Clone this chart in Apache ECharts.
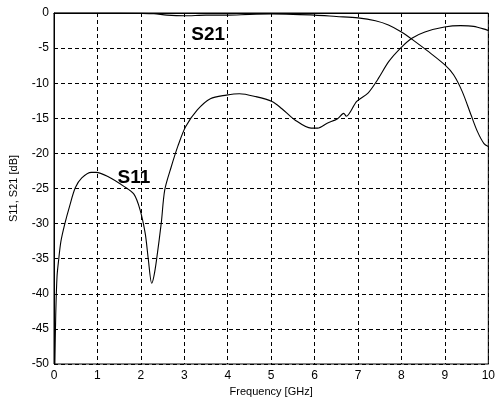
<!DOCTYPE html>
<html>
<head>
<meta charset="utf-8">
<script src="https://cdn.jsdelivr.net/npm/echarts@6/dist/echarts.min.js"></script>
<style>
  html, body { margin: 0; padding: 0; background: #fff; }
  #chart-container { width: 498px; height: 403px; }
</style>
</head>
<body>
<div id="chart-container"></div>
<script>
// S11 / S21 versus frequency

var myChart = echarts.init(document.getElementById('chart-container'));

// axis ranges
var X_MIN = 0, X_MAX = 10, X_STEP = 1;
var Y_MIN = -50, Y_MAX = 0, Y_STEP = 5;

// S11 curve [GHz, dB]
var s11Freq = [0.02, 0.04, 0.07, 0.11, 0.16, 0.25, 0.36, 0.49, 0.64, 0.86, 0.97, 1.24, 1.61, 1.84,
    1.98, 2.10, 2.17, 2.25, 2.30, 2.36, 2.47, 2.55, 2.70, 2.85, 3.03, 3.30, 3.60, 3.97, 4.27,
    4.64, 5.02, 5.24, 5.54, 5.92, 6.07, 6.29, 6.52, 6.67, 6.73, 6.97, 7.23, 7.45, 7.71, 7.98,
    8.24, 8.54, 8.99, 9.36, 9.66, 9.96, 10.0];
var s11Db = [-50, -43, -37.5, -35, -32.5, -30, -27.5, -24.9, -23.5, -22.7, -22.7, -23.3, -24.7, -25.8,
    -28, -31.4, -35, -38.5, -37.5, -35.2, -29.9, -25.2, -21.9, -19, -16.2, -13.8, -12.2, -11.7, -11.5,
    -11.9, -12.6, -13.6, -15.2, -16.4, -16.4, -15.7, -15.1, -14.3, -14.7, -12.6, -11.4, -9.5, -6.9, -5.0,
    -3.6, -2.7, -2.0, -1.8, -1.9, -2.4, -2.5];

// S21 curve [GHz, dB]
var s21Freq = [0, 1, 2, 2.3, 2.6, 3, 3.5, 4, 4.5, 5, 5.5, 6, 6.5, 7, 7.4, 7.7, 8, 8.3, 8.6, 9, 9.2,
    9.4, 9.6, 9.75, 9.9, 10];
var s21Db = [0, 0, -0.05, -0.1, -0.3, -0.4, -0.3, -0.3, -0.2, -0.15, -0.2, -0.3, -0.5, -0.7, -1.1,
    -1.7, -2.7, -4.0, -5.4, -7.4, -8.8, -11.2, -14.5, -16.9, -18.6, -19.0];

// curve labels: [text, GHz, dB]
var curveLabels = [['S21', 3.55, -3.1], ['S11', 1.84, -23.4]];

var FONT = 'Liberation Sans, Arial, sans-serif';

function pairs(xs, ys) {
    return xs.map(function (x, i) { return [x, ys[i]]; });
}

var gridLine = { show: true, lineStyle: { color: '#000', type: [4, 3], width: 1 } };

var option = {
    animation: false,
    backgroundColor: '#fff',
    grid: {
        left: 50, right: 3, top: 13, bottom: 39,
        show: true, borderColor: '#000', borderWidth: 1
    },
    xAxis: {
        type: 'value',
        min: X_MIN, max: X_MAX, interval: X_STEP,
        name: 'Frequency [GHz]',
        nameLocation: 'middle',
        nameGap: 20,
        nameTextStyle: { color: '#000', fontFamily: FONT, fontSize: 11 },
        axisLine: { show: true, lineStyle: { color: '#000', width: 1 } },
        axisTick: { show: false },
        axisLabel: { color: '#000', fontFamily: FONT, fontSize: 12, margin: 6 },
        splitLine: gridLine
    },
    yAxis: {
        type: 'value',
        min: Y_MIN, max: Y_MAX, interval: Y_STEP,
        name: 'S11, S21 [dB]',
        nameLocation: 'middle',
        nameGap: 35,
        nameTextStyle: { color: '#000', fontFamily: FONT, fontSize: 11 },
        axisLine: { show: true, lineStyle: { color: '#000', width: 1 } },
        axisTick: { show: false },
        axisLabel: { color: '#000', fontFamily: FONT, fontSize: 12, margin: 5 },
        splitLine: gridLine
    },
    series: [
        {
            name: 'S11',
            type: 'line',
            symbol: 'none',
            smooth: 0.3,
            lineStyle: { color: '#000', width: 1.1 },
            data: pairs(s11Freq, s11Db),
            z: 3
        },
        {
            name: 'S21',
            type: 'line',
            symbol: 'none',
            smooth: 0.3,
            lineStyle: { color: '#000', width: 1.1 },
            data: pairs(s21Freq, s21Db),
            markPoint: {
                symbol: 'circle',
                symbolSize: 0,
                silent: true,
                label: {
                    show: true,
                    position: 'inside',
                    color: '#000',
                    fontFamily: FONT,
                    fontSize: 19,
                    fontWeight: 'bold',
                    formatter: function (p) { return p.name; }
                },
                data: curveLabels.map(function (l) {
                    return { name: l[0], coord: [l[1], l[2]] };
                })
            },
            z: 3
        }
    ]
};

myChart.setOption(option);
</script>
</body>
</html>
